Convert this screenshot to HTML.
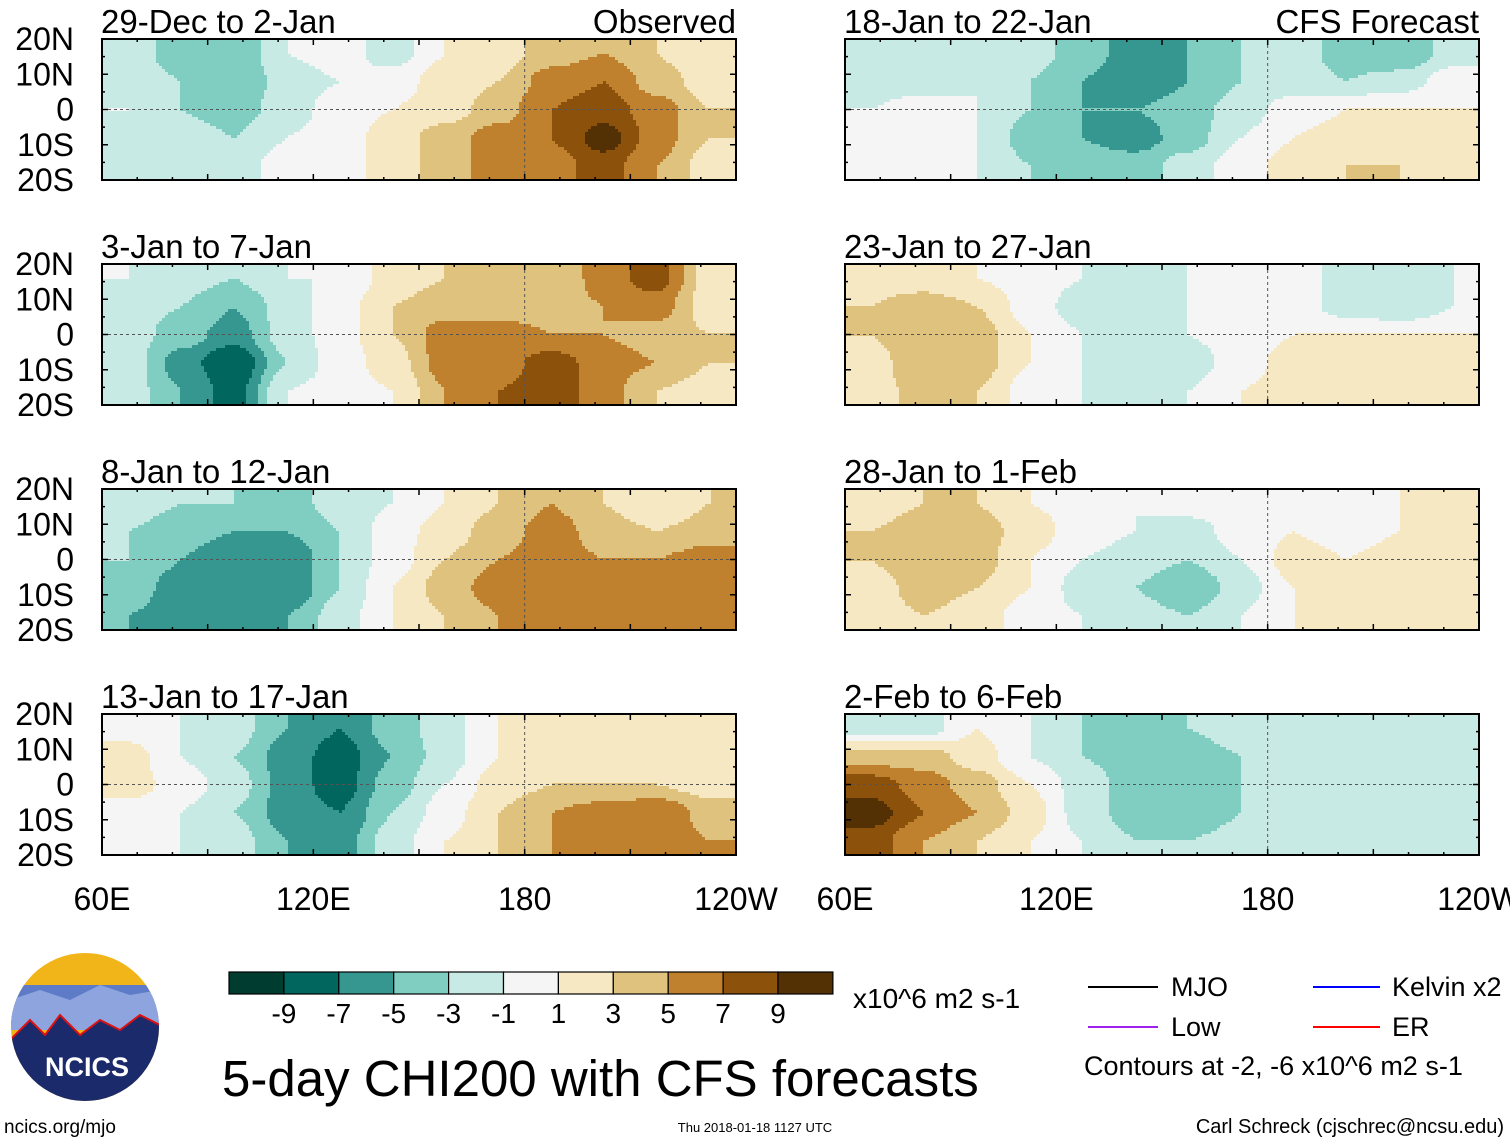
<!DOCTYPE html>
<html><head><meta charset="utf-8">
<style>
html,body{margin:0;padding:0;background:#fff;}
body{width:1510px;height:1142px;overflow:hidden;position:relative;font-family:"Liberation Sans",sans-serif;}
svg text{font-family:"Liberation Sans",sans-serif;}
</style></head>
<body>
<svg id="chart" width="1510" height="1142" viewBox="0 0 1510 1142" xmlns="http://www.w3.org/2000/svg">
<g id="panels"></g>
<g id="legend"></g>
</svg>
<script>
const titles = ["29-Dec to 2-Jan","3-Jan to 7-Jan","8-Jan to 12-Jan","13-Jan to 17-Jan","18-Jan to 22-Jan","23-Jan to 27-Jan","28-Jan to 1-Feb","2-Feb to 6-Feb"];
const latLabels = ["20N","10N","0","10S","20S"];
const lonLabels = ["60E","120E","180","120W"];
const levelLabels = ["-9","-7","-5","-3","-1","1","3","5","7","9"];
const palette = ["#003c30","#01665e","#35978f","#80cdc1","#c7eae5","#f5f5f5","#f6e8c3","#dfc27d","#bf812d","#8c510a","#543005"];
const grid0 = [[-2,-4,-5,-1,0,-2,1,2,4,5,3,1],[-2,-3,-5,-2,-1,0,2,3,6,7,4,2],[-1,-3,-4,-2,0,1,2,4,7,8,6,3],[-3,-2,-3,-1,0,2,4,6,7,10,6,3],[-3,-1,-2,0,0,2,4,6,6,8,5,2]];
const grid1 = [[-1,-2,-3,-1,-1,2,3,4,3,6,8,2],[-2,-3,-5,-2,0,3,4,4,4,5,6,2],[-2,-4,-6,-2,0,3,6,6,5,5,4,3],[-2,-6,-9,-3,0,2,6,6,8,6,5,3],[-2,-5,-8,-1,0,1,5,7,8,6,3,2]];
const grid2 = [[-2,-3,-3,-4,-2,-1,1,3,5,3,1,3],[-3,-4,-5,-5,-3,0,2,4,6,4,3,4],[-3,-5,-7,-7,-3,0,3,5,6,5,5,6],[-4,-6,-7,-7,-3,1,4,6,7,5,5,6],[-5,-6,-6,-5,-2,1,3,5,5,5,5,6]];
const grid3 = [[0,-1,-2,-5,-7,-4,-2,1,1,2,2,1],[2,-1,-3,-6,-8,-5,-2,1,2,2,2,1],[2,0,-2,-6,-8,-4,-1,2,3,3,3,2],[0,-1,-3,-6,-7,-3,0,3,5,6,7,4],[-1,-1,-2,-5,-6,-2,1,3,5,6,7,5]];
const grid4 = [[-2,-2,-1,-2,-4,-6,-5,-3,-2,-4,-5,-2],[-2,-2,-1,-3,-5,-7,-5,-3,-2,-3,-2,0],[-1,0,-1,-3,-5,-5,-4,-2,0,1,1,1],[-1,0,-1,-4,-5,-6,-4,-1,1,2,2,2],[-1,0,-1,-3,-4,-4,-2,0,2,3,3,2]];
const grid5 = [[2,2,1,0,-1,-2,-1,0,0,-2,-3,-1],[3,4,3,0,-2,-2,-1,-1,0,-2,-3,-1],[3,5,4,1,-1,-2,-1,0,1,1,1,1],[2,5,4,1,-1,-3,-2,0,2,2,3,2],[2,4,3,0,-1,-2,-1,1,2,2,2,1]];
const grid6 = [[2,3,3,1,0,-1,0,0,1,0,1,2],[3,4,4,2,0,-1,-2,0,1,0,1,2],[3,5,4,1,-1,-2,-3,-1,2,1,2,2],[2,4,3,1,-2,-3,-5,-2,1,2,2,2],[2,3,2,0,-1,-2,-3,-1,1,2,2,2]];
const grid7 = [[-2,-2,1,-1,-3,-4,-3,-2,-1,-2,-3,-3],[4,4,2,-1,-3,-4,-4,-3,-2,-2,-2,-3],[8,6,4,1,-2,-4,-5,-3,-2,-2,-2,-2],[10,7,5,2,-2,-4,-5,-3,-2,-2,-2,-2],[8,5,3,1,-1,-3,-3,-2,-2,-2,-2,-2]];
const grids = [grid0,grid1,grid2,grid3,grid4,grid5,grid6,grid7];

const NS="http://www.w3.org/2000/svg";
function mk(tag, attrs, parent){const e=document.createElementNS(NS,tag);for(const k in attrs)e.setAttribute(k,attrs[k]);parent.appendChild(e);return e;}
function levelIdx(v){let i=Math.floor((v+11)/2);if(i<0)i=0;if(i>10)i=10;return i;}
function sample(grid,fx,fy){
  const nr=grid.length,nc=grid[0].length;
  let x=Math.max(0,Math.min(nc-1,fx)), y=Math.max(0,Math.min(nr-1,fy));
  const x0=Math.floor(x),y0=Math.floor(y),x1=Math.min(nc-1,x0+1),y1=Math.min(nr-1,y0+1);
  const tx=x-x0,ty=y-y0;
  const sx=tx*tx*(3-2*tx), sy=ty*ty*(3-2*ty);
  const a=grid[y0][x0]*(1-sx)+grid[y0][x1]*sx, b=grid[y1][x0]*(1-sx)+grid[y1][x1]*sx;
  return a*(1-sy)+b*sy;
}
const panelsG=document.getElementById('panels');
const colX=[102,845], W=634, rowY=[39,264,489,714], H=141;
function lonX(x0,lon){return x0+(lon-60)/180*W;}
function latY(y0,lat){return y0+(20-lat)/40*H;}
const STEP=3;
function addCell(field,x,y,w,h,idx){
  const cell=mk('rect',{x:x,y:y,width:w,height:h,fill:palette[idx]},field);
  
  
}
for(let p=0;p<8;p++){
  const x0=colX[p<4?0:1], y0=rowY[p%4];
  const g=mk('g',{},panelsG);
  
  
  const field=mk('g',{'shape-rendering':'crispEdges'},g);
  const grid=grids[p];
  const nr=grid.length,nc=grid[0].length;
  for(let py=0;py<H;py+=STEP){
    const fy=(py+STEP/2)/H*nr-0.5;
    const h=Math.min(STEP,H-py);
    let runStart=0, runIdx=-1;
    for(let px=0;px<W;px+=STEP){
      const fx=(px+STEP/2)/W*nc-0.5;
      const idx=levelIdx(sample(grid,fx,fy));
      if(idx!==runIdx){
        if(runIdx>=0) addCell(field,x0+runStart,y0+py,px-runStart,h,runIdx);
        runStart=px; runIdx=idx;
      }
    }
    addCell(field,x0+runStart,y0+py,W-runStart,h,runIdx);
  }
  mk('line',{x1:x0,x2:x0+W,y1:latY(y0,0),y2:latY(y0,0),stroke:'#555','stroke-width':1,'stroke-dasharray':'3,3'},g);
  mk('line',{x1:lonX(x0,180),x2:lonX(x0,180),y1:y0,y2:y0+H,stroke:'#555','stroke-width':1,'stroke-dasharray':'3,3'},g);
  const fr=mk('rect',{x:x0,y:y0,width:W,height:H,fill:'none',stroke:'#000','stroke-width':2},g);
  
  
  for(let lon=60;lon<=240;lon+=10){const x=lonX(x0,lon);const L=lon%30===0?6:3;
    mk('line',{x1:x,x2:x,y1:y0,y2:y0+L,stroke:'#000','stroke-width':1.5},g);
    mk('line',{x1:x,x2:x,y1:y0+H,y2:y0+H-L,stroke:'#000','stroke-width':1.5},g);}
  for(let lat=-20;lat<=20;lat+=5){const y=latY(y0,lat);const L=lat%10===0?6:3;
    mk('line',{x1:x0,x2:x0+L,y1:y,y2:y,stroke:'#000','stroke-width':1.5},g);
    mk('line',{x1:x0+W,x2:x0+W-L,y1:y,y2:y,stroke:'#000','stroke-width':1.5},g);}
  const t=mk('text',{x:x0-1,y:y0-6,'font-size':33,fill:'#000'},g);t.textContent=titles[p];
  
  
  if(p===0){const o=mk('text',{x:x0+W,y:y0-6,'font-size':33,'text-anchor':'end'},g);o.textContent='Observed';
    }
  if(p===4){const o=mk('text',{x:x0+W,y:y0-6,'font-size':33,'text-anchor':'end'},g);o.textContent='CFS Forecast';
    }
  if(p<4){for(let i=0;i<5;i++){const lt=mk('text',{x:74,y:latY(y0,20-i*10)+11,'font-size':32,'text-anchor':'end'},g);lt.textContent=latLabels[i];
    }}
}
for(let c=0;c<2;c++)for(let i=0;i<4;i++){
  const t=mk('text',{x:lonX(colX[c],60+i*60),y:910,'font-size':32,'text-anchor':'middle'},panelsG);t.textContent=lonLabels[i];
  
  
}
const lg=document.getElementById('legend');
for(let i=0;i<11;i++){
  const r=mk('rect',{x:229+i*54.9,y:972,width:54.9,height:22,fill:palette[i],stroke:'#000','stroke-width':1.2},lg);
  
  
}
for(let i=0;i<10;i++){const t=mk('text',{x:229+(i+1)*54.9,y:1023,'font-size':28,'text-anchor':'middle'},lg);t.textContent=levelLabels[i];
  }
</script>
<svg style="position:absolute;left:0;top:0" width="1510" height="1142">
<text x="853" y="1008" font-size="28">x10^6 m2 s-1</text>
<text x="222" y="1096" font-size="51">5-day CHI200 with CFS forecasts</text>
<g><line x1="1088" x2="1158" y1="987" y2="987" stroke="#000" stroke-width="2"/><text x="1171" y="996" font-size="27">MJO</text></g>
<g><line x1="1313" x2="1380" y1="987" y2="987" stroke="#0000ff" stroke-width="2"/><text x="1392" y="996" font-size="27">Kelvin x2</text></g>
<g><line x1="1088" x2="1158" y1="1027" y2="1027" stroke="#a020f0" stroke-width="2"/><text x="1171" y="1036" font-size="27">Low</text></g>
<g><line x1="1313" x2="1380" y1="1027" y2="1027" stroke="#ff0000" stroke-width="2"/><text x="1392" y="1036" font-size="27">ER</text></g>
<text x="1084" y="1075" font-size="27">Contours at -2, -6 x10^6 m2 s-1</text>
<text x="4" y="1133" font-size="19">ncics.org/mjo</text>
<text x="755" y="1132" font-size="13" text-anchor="middle">Thu 2018-01-18 1127 UTC</text>
<text x="1504" y="1133" font-size="20" text-anchor="end">Carl Schreck (cjschrec@ncsu.edu)</text>
<g>
<clipPath id="lc"><circle cx="85" cy="1027" r="74"/></clipPath>
<g clip-path="url(#lc)">
<rect x="10" y="952" width="150" height="150" fill="#f2b519"/>
<rect x="10" y="985" width="150" height="40" fill="#5e7bc8"/>
<path d="M10 1000 L40 990 L70 1000 L100 985 L130 995 L160 990 L160 1030 L10 1030Z" fill="#8ea4de"/>
<path d="M10 1040 L30 1020 L45 1035 L60 1015 L80 1035 L100 1020 L120 1030 L140 1015 L160 1025 L160 1102 L10 1102Z" fill="#1b2a6b"/>
<path d="M10 1040 L30 1020 L45 1035 L60 1015 L80 1035 L100 1020 L120 1030 L140 1015 L160 1025" fill="none" stroke="#d11" stroke-width="2"/>
</g>
<text x="87" y="1076" font-size="27" font-weight="bold" fill="#fff" text-anchor="middle">NCICS</text>
</g>
</svg>
</body></html>
